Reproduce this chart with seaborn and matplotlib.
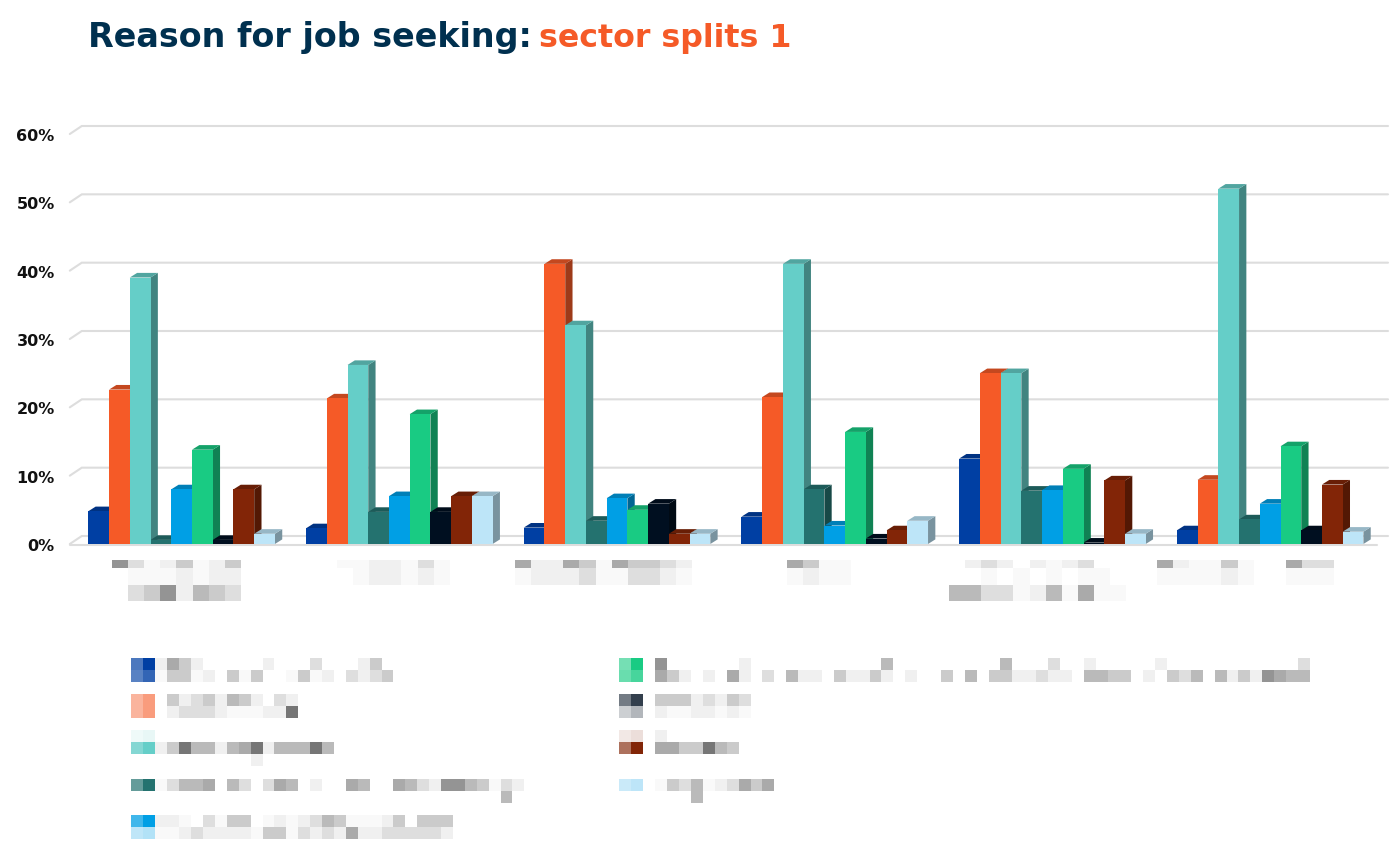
"""
Reason for job seeking: sector splits (3D look clustered bars, labels masked as in the source)
"""

import matplotlib.pyplot as plt
import numpy as np
import pandas as pd
import seaborn as sns
from matplotlib.colors import to_rgb
from matplotlib.patches import Polygon, Rectangle

# ---------------------------------------------------------------------------
# Data
# ---------------------------------------------------------------------------
GROUPS = ["g1", "g2", "g3", "g4", "g5", "g6"]
REASONS = ["r1", "r2", "r3", "r4", "r5", "r6", "r7", "r8", "r9"]

R1 = [4.8, 2.3, 2.4, 4.0, 12.5, 2.0]
R2 = [22.6, 21.3, 41.0, 21.5, 25.0, 9.4]
R3 = [39.0, 26.2, 32.0, 41.0, 25.0, 52.0]
R4 = [0.6, 4.7, 3.4, 8.0, 7.8, 3.6]
R5 = [8.0, 7.0, 6.7, 2.7, 7.9, 5.9]
R6 = [13.8, 19.0, 5.0, 16.4, 11.0, 14.3]
R7 = [0.6, 4.7, 5.9, 0.8, 0.2, 2.0]
R8 = [8.0, 7.0, 1.5, 2.0, 9.3, 8.7]
R9 = [1.5, 7.0, 1.5, 3.4, 1.5, 1.8]

COLORS = ["#003FA3", "#F55A27", "#65CEC8", "#24726F", "#009FE5",
          "#19CB83", "#000F20", "#822507", "#BDE5F8"]
Y_TICKS = [0, 10, 20, 30, 40, 50, 60]

# masked text, one character per mosaic cell: space or 0 is white, "." is faint, digits get darker
XLABEL_1 = ["62.13.13", " ...1.11", " 2361432"]
XLABEL_2 = ["..11.2.", " .11.1."]
XLABEL_3 = ["51153.53321", ".1112..221."]
XLABEL_4 = ["53..", ".1.."]
XLABEL_5 = [" 121 1.12", "  . . . ..", "4422.14.5.."]
XLABEL_6 = ["51..3.  522", "....1.  ..."]

LEGEND_L1 = ["1531     1   2   13", ".33.1 3.3  .3.1 2123"]
LEGEND_L2 = [" 31231431 21", " 12221...117"]
LEGEND_L3 = ["  ", "137441457144474", "        1"]
LEGEND_L4 = [".244504202540100540054216643.21", " " * 29 + "4"]
LEGEND_L5 = ["11.02.330.1.1243...130333", "..121111.33.2121511222221"]
LEGEND_R1 = ["06000000100000000000400000000040002001000001000000000002",
             "05310105102041103113101003040331121104433010324041316544"]
LEGEND_R2 = [" 33312132", " 1..11.1."]
LEGEND_R3 = [" 1", " 5533743"]
LEGEND_R4 = [" .324.12535", "    4"]

SWATCH_ALPHA = [
    [[0.7, 1.0], [0.65, 0.8]],
    [[0.45, 0.6], [0.45, 0.6]],
    [[0.1, 0.15], [0.8, 1.0]],
    [[0.7, 1.0]],
    [[0.75, 1.0], [0.25, 0.3]],
    [[0.6, 1.0], [0.65, 0.8]],
    [[0.55, 0.8], [0.2, 0.3]],
    [[0.1, 0.15], [0.65, 1.0]],
    [[0.8, 1.0]],
]

# ---------------------------------------------------------------------------
# Layout in reference pixels
# ---------------------------------------------------------------------------
W, H = 1393, 862
AX_LEFT, AX_RIGHT, AX_TOP, AX_BOTTOM = 72.8, 1379.0, 135.0, 545.0
PX_X = 6 / (AX_RIGHT - AX_LEFT)
PX_Y = 60 / (AX_BOTTOM - AX_TOP)
BAR_DX, BAR_DY = 7.3, 4.6
GRID_COLOR = "#DDDDDD"
INK = "#00304F"
ORANGE = "#F55A27"
GREYS = {".": 249, "1": 240, "2": 222, "3": 203, "4": 186, "5": 170, "6": 148, "7": 118}


def shade(color, factor):
    """Darken a colour by scaling its channels."""
    return tuple(np.array(to_rgb(color)) * factor)


def draw_mask(ax, left, top, rows, cell_w, cell_h, first_h=None):
    """Draw a masked text block as grey mosaic cells."""
    y = top
    for r, row in enumerate(rows):
        row_h = first_h if (first_h and r == 0) else cell_h
        for c, level in enumerate(row):
            if level in GREYS:
                grey = GREYS[level] / 255
                ax.add_patch(Rectangle((left + c * cell_w, y), cell_w, row_h,
                                       color=(grey, grey, grey), lw=0))
        y += row_h


sns.set_theme(style="white")
fig = plt.figure(figsize=(W / 100, H / 100), dpi=100, facecolor="white")
ax = fig.add_axes([AX_LEFT / W, 1 - AX_BOTTOM / H,
                   (AX_RIGHT - AX_LEFT) / W, (AX_BOTTOM - AX_TOP) / H])

series = [R1, R2, R3, R4, R5, R6, R7, R8, R9]
df = pd.DataFrame({
    "group": GROUPS * len(REASONS),
    "reason": [r for r in REASONS for _ in GROUPS],
    "share": [v for s in series for v in s],
})
sns.barplot(data=df, x="group", y="share", hue="reason", palette=COLORS,
            width=0.857, gap=0, saturation=1, legend=False, errorbar=None,
            linewidth=0, ax=ax)

ax.set_xlim(-0.5, 5.5)
ax.set_ylim(0, 60)
sns.despine(ax=ax, left=True, bottom=True)
ax.set_xlabel("")
ax.set_ylabel("")
ax.set_xticks([])
ax.set_yticks(Y_TICKS, [f"{v}%" for v in Y_TICKS])
ax.tick_params(axis="y", length=0, pad=13)
for label in ax.get_yticklabels():
    label.set_fontfamily("DejaVu Sans")
    label.set_fontweight("bold")
    label.set_fontsize(11.5)
    label.set_color("#111111")

# back wall grid lines with the little slanted floor edge
for v in Y_TICKS:
    back = v + 8 * PX_Y
    ax.plot([-0.5 - 3 * PX_X, -0.5 + 9 * PX_X, 5.5 + 9 * PX_X], [v, back, back],
            color=GRID_COLOR, lw=1.5, clip_on=False, zorder=1, solid_joinstyle="miter")
ax.plot([-0.5 - 3 * PX_X, 5.5 - 2 * PX_X], [-0.15, -0.15], color=GRID_COLOR, lw=1.5,
        clip_on=False, zorder=1)

# front faces come from seaborn, the side and top faces are built on them
bars = []
for container, color in zip(ax.containers, COLORS):
    for bar in container:
        bars.append((bar, color))
bars.sort(key=lambda item: item[0].get_x())
dx, dy = BAR_DX * PX_X, BAR_DY * PX_Y
for bar, color in bars:
    bar.set_zorder(3)
    x0, x1 = bar.get_x(), bar.get_x() + bar.get_width()
    top = bar.get_height()
    ax.add_patch(Polygon([(x1, 0), (x1 + dx, dy), (x1 + dx, top + dy), (x1, top)],
                         facecolor=shade(color, 0.64), lw=0, zorder=2.5, clip_on=False))
    ax.add_patch(Polygon([(x0, top), (x0 + dx, top + dy), (x1 + dx, top + dy), (x1, top)],
                         facecolor=shade(color, 0.8), lw=0, zorder=2.5, clip_on=False))

# overlay in pixel coordinates for title, masked labels and legend
over = fig.add_axes([0, 0, 1, 1], facecolor="none")
over.set_xlim(0, W)
over.set_ylim(H, 0)
over.axis("off")

over.text(88, 47.5, "Reason for job seeking:", color=INK, fontsize=24, fontweight="bold",
          family="DejaVu Sans", va="baseline")
over.text(539, 47.5, "sector splits 1", color=ORANGE, fontsize=22.8, fontweight="bold",
          family="DejaVu Sans", va="baseline")

xlabel_blocks = [XLABEL_1, XLABEL_2, XLABEL_3, XLABEL_4, XLABEL_5, XLABEL_6]
xlabel_lefts = [112, 337, 515, 787, 949, 1157]
for left, rows in zip(xlabel_lefts, xlabel_blocks):
    draw_mask(over, left, 561, rows, 16.1, 16.5, first_h=8)

legend_blocks = [LEGEND_L1, LEGEND_L2, LEGEND_L3, LEGEND_L4, LEGEND_L5,
                 LEGEND_R1, LEGEND_R2, LEGEND_R3, LEGEND_R4]
legend_tops = [659, 695, 731, 780, 816, 659, 695, 731, 780]
legend_lefts = [131] * 5 + [619] * 4
for i, rows in enumerate(legend_blocks):
    left, top = legend_lefts[i], legend_tops[i]
    draw_mask(over, left + 24.4, top, rows, 11.9, 12)
    for r, row in enumerate(SWATCH_ALPHA[i]):
        for c, alpha in enumerate(row):
            over.add_patch(Rectangle((left + c * 12.2, top + r * 12), 12.2, 12,
                                     color=COLORS[i], alpha=alpha, lw=0))

fig.savefig("out.png", dpi=100, facecolor="white")
